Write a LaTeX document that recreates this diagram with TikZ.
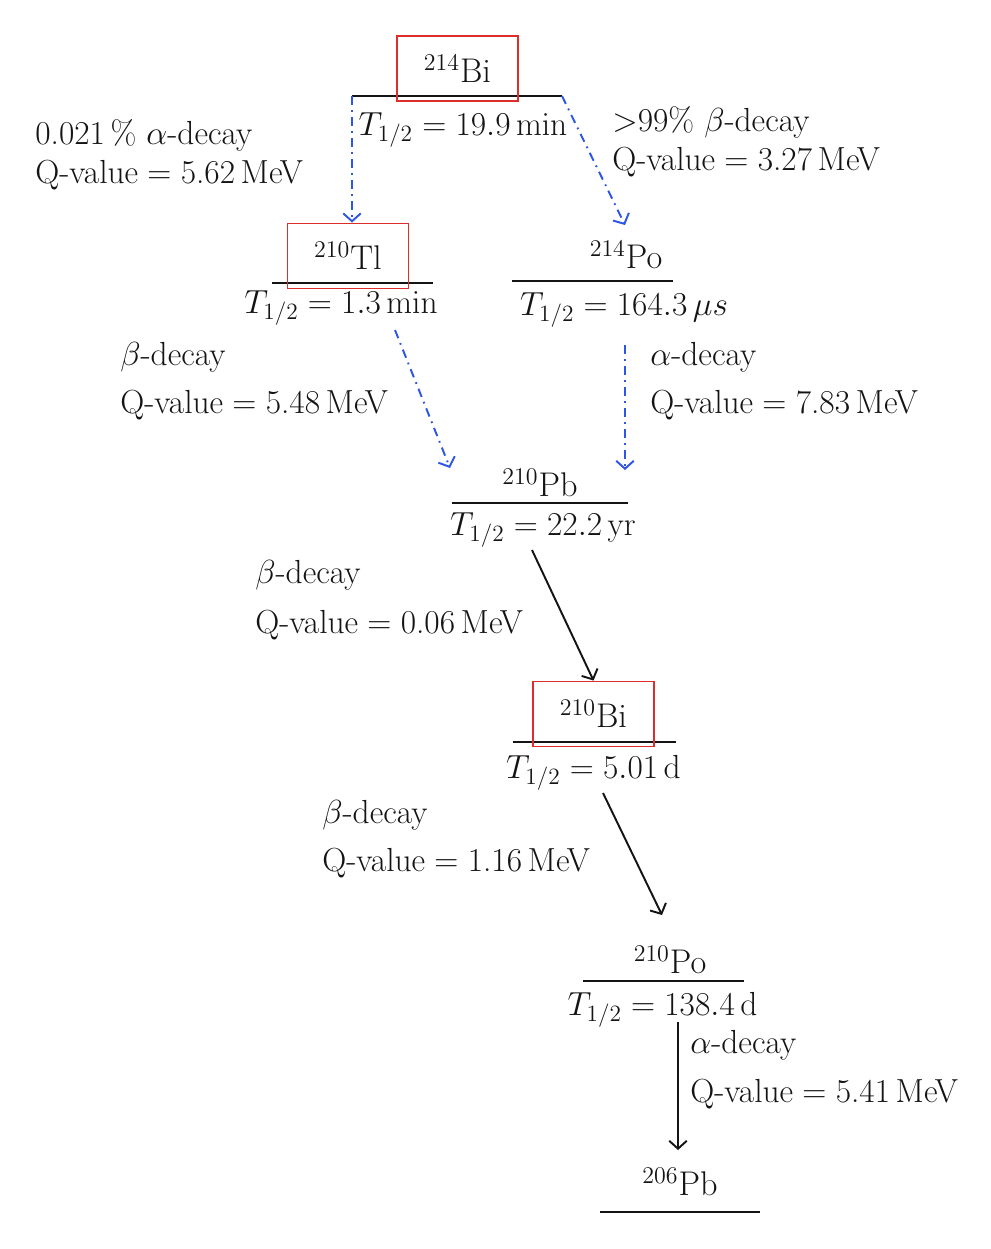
\documentclass[tikz,border=0pt]{standalone}
\usepackage{fix-cm}
\usepackage{tikz}
\usetikzlibrary{arrows.meta, calc}
\definecolor{boxred}   {RGB}{222,  45,  45}
\definecolor{decayblue}{RGB}{ 45,  85, 230}
\definecolor{darktext} {RGB}{ 20,  20,  20}
\newcommand{\lblsize}{\fontsize{19}{23}\selectfont}
\newcommand{\nucsize}{\fontsize{19.5}{23}\selectfont}

\begin{document}
\begin{tikzpicture}[x=0.02cm, y=-0.02cm, darktext,
  nucl/.style={font=\nucsize, inner sep=1pt},
  nuclbox/.style={nucl, draw=boxred, line width=1.1pt, minimum width=2.42cm, minimum height=1.3cm},
  halflife/.style={font=\lblsize, inner sep=1pt},
  decaytxt/.style={font=\lblsize, anchor=west, inner sep=0pt},
  level/.style={line width=1.1pt},
  dashdecay/.style={decayblue, line width=1.1pt, dash pattern=on 5pt off 3pt on 1pt off 3pt,
    -{Straight Barb[length=4.5pt, width=10pt]}},
  soliddecay/.style={darktext, line width=1.1pt, -{Straight Barb[length=4.5pt, width=10pt]}}]
  \useasboundingbox (0,0) rectangle (991,1249);

  % 214Bi
  \coordinate (biL) at (352,96);  \coordinate (biR) at (562,96);
  \draw[level] (biL) -- (biR);
  \node[nuclbox] (bi214) at (457.5,68.5) {$^{214}$Bi};
  \node[halflife] (hlbi214) at (463,130) {$T_{1/2}=19.9\,\mathrm{min}$};

  % 210Tl
  \coordinate (tlL) at (272,283); \coordinate (tlR) at (433,283);
  \draw[level] (tlL) -- (tlR);
  \node[nuclbox] (tl210) at (348,256) {$^{210}$Tl};
  \node[halflife] (hltl210) at (341,308) {$T_{1/2}=1.3\,\mathrm{min}$};

  % 214Po
  \coordinate (poaL) at (512,281); \coordinate (poaR) at (673,281);
  \draw[level] (poaL) -- (poaR);
  \node[nucl] (po214) at (626,255) {$^{214}$Po};
  \node[halflife] (hlpo214) at (624,310) {$T_{1/2}=164.3\,\mu s$};

  % 210Pb
  \coordinate (pbL) at (452,503); \coordinate (pbR) at (628,503);
  \draw[level] (pbL) -- (pbR);
  \node[nucl] (pb210) at (540,483) {$^{210}$Pb};
  \node[halflife] (hlpb210) at (543,530) {$T_{1/2}=22.2\,\mathrm{yr}$};

  % 210Bi
  \coordinate (bibL) at (513,742); \coordinate (bibR) at (676,742);
  \draw[level] (bibL) -- (bibR);
  \node[nuclbox] (bi210) at (593.5,714) {$^{210}$Bi};
  \node[halflife] (hlbi210) at (593.5,773) {$T_{1/2}=5.01\,\mathrm{d}$};

  % 210Po
  \coordinate (pobL) at (583,981); \coordinate (pobR) at (744,981);
  \draw[level] (pobL) -- (pobR);
  \node[nucl] (po210) at (670,960) {$^{210}$Po};
  \node[halflife] (hlpo210) at (662.5,1010) {$T_{1/2}=138.4\,\mathrm{d}$};

  % 206Pb (stable)
  \coordinate (pbbL) at (600,1212); \coordinate (pbbR) at (760,1212);
  \draw[level] (pbbL) -- (pbbR);
  \node[nucl] (pb206) at (680,1182) {$^{206}$Pb};

  % arrow ends
  \coordinate (tlOut) at (395,330);  \coordinate (pbInL) at (450,468);
  \coordinate (poOut) at (625,345);  \coordinate (pbInR) at (625,470);
  \coordinate (poIn)  at (625,225);
  \coordinate (pbOut) at (532,550);
  \coordinate (bibOut) at (603,793); \coordinate (pobIn) at (662,915);
  \coordinate (pobOut) at (678,1022); \coordinate (pbbIn) at (678,1150);

  % decays
  \draw[dashdecay] (biL) -- (biL |- tl210.north);
  \draw[dashdecay] (biR) -- (poIn);
  \draw[dashdecay] (tlOut) -- (pbInL);
  \draw[dashdecay] (poOut) -- (pbInR);
  \draw[soliddecay] (pbOut) -- (bi210.north);
  \draw[soliddecay] (bibOut) -- (pobIn);
  \draw[soliddecay] (pobOut) -- (pbbIn);

  % labels
  \node[decaytxt] (alphaA) at (35,135) {0.021\,\% $\alpha$-decay};
  \node[decaytxt] (qA)     at (35,175) {Q-value${}={}$5.62\,MeV};
  \node[decaytxt] (betaA)  at (612,122) {$>$99\% $\beta$-decay};
  \node[decaytxt] (qB)     at (612,162) {Q-value${}={}$3.27\,MeV};
  \node[decaytxt] (betaB)  at (120,357) {$\beta$-decay};
  \node[decaytxt] (qC)     at (120,405) {Q-value${}={}$5.48\,MeV};
  \node[decaytxt] (alphaB) at (650,357) {$\alpha$-decay};
  \node[decaytxt] (qD)     at (650,405) {Q-value${}={}$7.83\,MeV};
  \node[decaytxt] (betaC)  at (255,575) {$\beta$-decay};
  \node[decaytxt] (qE)     at (255,625) {Q-value${}={}$0.06\,MeV};
  \node[decaytxt] (betaD)  at (322,815) {$\beta$-decay};
  \node[decaytxt] (qF)     at (322,863) {Q-value${}={}$1.16\,MeV};
  \node[decaytxt] (alphaC) at (690,1045) {$\alpha$-decay};
  \node[decaytxt] (qG)     at (690,1094) {Q-value${}={}$5.41\,MeV};
\end{tikzpicture}
\end{document}
